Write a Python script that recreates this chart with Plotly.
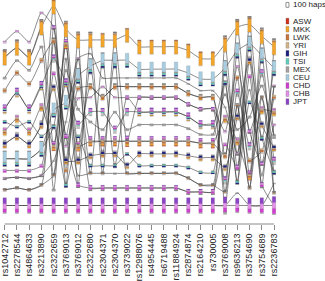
import plotly.graph_objects as go

SNPS = ["rs1042712", "rs2278544", "rs4864633", "rs3213890", "rs2322659", "rs3769013",
        "rs3769012", "rs2322680", "rs2304371", "rs2304370", "rs3739022", "rs12988076",
        "rs4954445", "rs6719488", "rs11884924", "rs2874874", "rs2164210", "rs730005",
        "rs3769008", "rs9636213", "rs3754690", "rs3754689", "rs2236783"]

POPS = ["ASW", "MKK", "LWK", "YRI", "GIH", "TSI", "MEX", "CEU", "CHD", "CHB", "JPT"]
POP_COLORS = ["#d0301c", "#f2a52a", "#c8743a", "#d4b487", "#1c2080", "#5fcfbb",
              "#a9a0a0", "#a8cde0", "#cf3fcf", "#e290e8", "#8c44c6"]

# haplotype rank position (vertical slot) at each SNP, one row per haplotype
HAP_Y = [
    [59, 49, 59, 28, 6, 30, 41, 41, 41, 41, 36, 48, 48, 48, 48, 52, 60, 60, 45, 28, 25, 37, 48],
    [163, 163, 163, 153, 113, 105, 78, 68, 62, 62, 62, 71, 71, 71, 71, 75, 81, 81, 70, 52, 45, 57, 70],
    [211, 211, 211, 211, 211, 211, 211, 211, 211, 211, 211, 211, 211, 211, 211, 211, 211, 211, 211, 211, 211, 211, 211],
    [43, 32, 43, 13, 28, 150, 101, 100, 89, 100, 100, 100, 100, 100, 100, 107, 112, 112, 135, 68, 135, 168, 128],
    [93, 75, 86, 62, 42, 175, 91, 89, 100, 89, 89, 89, 89, 89, 89, 96, 100, 100, 160, 80, 165, 155, 100],
    [80, 62, 72, 48, 195, 72, 112, 125, 133, 115, 133, 128, 128, 128, 128, 132, 138, 138, 97, 133, 120, 88, 140],
    [112, 95, 112, 88, 60, 85, 128, 115, 115, 133, 115, 115, 115, 115, 115, 120, 128, 128, 185, 95, 150, 75, 165],
    [135, 122, 135, 110, 150, 45, 150, 145, 145, 145, 145, 145, 145, 145, 145, 145, 147, 147, 122, 145, 180, 113, 115],
    [148, 140, 148, 128, 90, 165, 165, 160, 158, 158, 170, 158, 158, 158, 158, 160, 162, 162, 172, 120, 62, 128, 152],
    [183, 182, 183, 180, 165, 125, 60, 55, 80, 80, 80, 80, 80, 80, 80, 86, 93, 93, 110, 158, 92, 180, 88],
    [195, 193, 195, 190, 180, 60, 180, 178, 178, 178, 178, 178, 178, 178, 178, 183, 190, 190, 197, 108, 193, 100, 198],
    [125, 130, 125, 140, 130, 190, 140, 170, 170, 170, 158, 170, 170, 170, 170, 172, 177, 177, 85, 187, 105, 142, 177],
    [175, 175, 175, 170, 75, 140, 190, 193, 193, 193, 193, 193, 193, 193, 193, 197, 197, 197, 148, 172, 78, 190, 211],
    [211, 211, 211, 211, 211, 211, 211, 211, 211, 211, 211, 211, 211, 211, 211, 211, 211, 211, 211, 198, 211, 211, 188],
    [112, 95, 112, 88, 180, 30, 150, 89, 100, 89, 89, 89, 89, 89, 89, 96, 100, 100, 211, 108, 193, 37, 140],
    [148, 140, 148, 128, 6, 190, 41, 193, 193, 193, 193, 193, 193, 193, 193, 197, 197, 197, 45, 172, 62, 190, 48],
    [183, 182, 183, 180, 42, 165, 60, 145, 145, 145, 145, 145, 145, 145, 145, 145, 147, 147, 160, 28, 135, 100, 177],
    [195, 193, 195, 190, 28, 140, 78, 178, 62, 170, 100, 115, 115, 115, 115, 120, 128, 128, 85, 187, 25, 142, 70],
    [163, 163, 163, 153, 130, 45, 190, 41, 178, 41, 145, 100, 100, 100, 100, 107, 112, 112, 197, 52, 180, 57, 198],
    [59, 49, 59, 28, 150, 85, 165, 68, 158, 62, 178, 178, 178, 178, 178, 183, 190, 190, 70, 158, 45, 168, 88],
]

# haplotype counts per population (order of POPS)
HAP_COUNTS = [
    [5, 260, 25, 15, 0, 0, 0, 0, 0, 0, 0],
    [3, 0, 0, 0, 30, 35, 20, 210, 0, 0, 0],
    [0, 6, 6, 6, 0, 0, 0, 0, 75, 90, 110],
    [0, 0, 0, 0, 0, 0, 0, 0, 15, 30, 15],
    [10, 15, 45, 30, 0, 0, 0, 0, 0, 0, 0],
    [0, 0, 0, 0, 5, 5, 30, 10, 0, 0, 0],
    [8, 15, 12, 10, 15, 25, 0, 0, 25, 25, 25],
    [15, 35, 35, 30, 10, 0, 0, 0, 20, 20, 15],
    [10, 20, 20, 20, 45, 10, 0, 0, 10, 5, 0],
    [0, 0, 0, 0, 0, 0, 0, 0, 10, 15, 10],
    [5, 10, 15, 10, 0, 0, 0, 0, 0, 0, 0],
    [0, 0, 0, 0, 30, 30, 5, 5, 0, 0, 0],
    [0, 0, 0, 0, 0, 0, 0, 0, 35, 30, 15],
    [0, 0, 0, 0, 0, 0, 0, 0, 5, 10, 15],
    [3, 3, 3, 3, 5, 5, 3, 3, 3, 2, 0],
    [0, 3, 3, 3, 5, 5, 2, 3, 5, 4, 2],
    [2, 2, 2, 2, 3, 3, 2, 2, 2, 2, 2],
    [1, 2, 2, 1, 2, 2, 1, 2, 2, 2, 1],
    [1, 1, 2, 2, 3, 2, 1, 3, 2, 2, 2],
    [2, 2, 2, 2, 2, 2, 2, 2, 2, 2, 2],
]
SCALE_HAPS = 100

PX_PER_HAP = 0.05        # 100 haps -> 5 px
PLOT_W, PLOT_H = 280, 230
XR = (-0.219, 22.49)
HALF_W = 1.8 * (XR[1] - XR[0]) / PLOT_W
FONT = "Liberation Sans, Arial, sans-serif"

fig = go.Figure()
ncol = len(SNPS)
xs = list(range(ncol))

# connecting lines
for ys in HAP_Y:
    fig.add_trace(go.Scatter(x=xs, y=ys, mode="lines",
                             line=dict(color="rgba(45,45,45,0.85)", width=0.65,
                                       shape="spline", smoothing=0.55),
                             hoverinfo="skip", showlegend=False))

# nodes: stacked bars per column
poly_x = {p: [] for p in POPS}
poly_y = {p: [] for p in POPS}
for c in range(ncol):
    nodes = {}
    for ys, cnt in zip(HAP_Y, HAP_COUNTS):
        y = ys[c]
        acc = nodes.setdefault(y, [0] * len(POPS))
        for i, v in enumerate(cnt):
            acc[i] += v
    for y, acc in nodes.items():
        total = sum(acc)
        cur = y + total * PX_PER_HAP / 2
        for i, p in enumerate(POPS):
            h = acc[i] * PX_PER_HAP
            if h <= 0:
                continue
            top = cur - h
            poly_x[p] += [c - HALF_W, c + HALF_W, c + HALF_W, c - HALF_W, c - HALF_W, None]
            poly_y[p] += [cur, cur, top, top, cur, None]
            cur = top

for p, col in zip(POPS, POP_COLORS):
    fig.add_trace(go.Scatter(x=poly_x[p], y=poly_y[p], mode="lines", fill="toself",
                             fillcolor=col, line=dict(color="rgba(110,110,110,0.55)", width=0.3),
                             hoverinfo="skip", showlegend=False))

# axis baseline from first to last tick
fig.add_shape(type="line", xref="x", yref="paper", x0=0, x1=ncol - 1, y0=0, y1=0,
              line=dict(color="#8a8a8a", width=1))

# legend (custom)
def px_x(px):
    return px / PLOT_W

def px_y(py):
    return 1 - py / PLOT_H

fig.add_shape(type="rect", xref="paper", yref="paper",
              x0=px_x(286), x1=px_x(289), y0=px_y(2.5 + SCALE_HAPS * PX_PER_HAP), y1=px_y(2.5),
              line=dict(color="#777", width=0.8), fillcolor="white")
fig.add_annotation(xref="paper", yref="paper", x=px_x(292), y=px_y(5), text=f"{SCALE_HAPS} haps",
                   showarrow=False, xanchor="left", yanchor="middle", borderpad=0,
                   font=dict(family=FONT, size=8, color="#222"))
for i, (p, col) in enumerate(zip(POPS, POP_COLORS)):
    yc = 21.7 + i * 8.27
    fig.add_shape(type="rect", xref="paper", yref="paper",
                  x0=px_x(286), x1=px_x(289), y0=px_y(yc + 3), y1=px_y(yc - 3),
                  line=dict(color="rgba(90,90,90,0.6)", width=0.4), fillcolor=col)
    fig.add_annotation(xref="paper", yref="paper", x=px_x(292), y=px_y(yc), text=p,
                       showarrow=False, xanchor="left", yanchor="middle", borderpad=0,
                       font=dict(family=FONT, size=8, color="#222"))

fig.update_layout(
    width=325, height=281,
    margin=dict(l=0, r=45, t=0, b=51, pad=0),
    paper_bgcolor="white", plot_bgcolor="white",
    showlegend=False,
    xaxis=dict(range=list(XR), tickvals=xs, ticktext=SNPS, tickangle=-90,
               tickfont=dict(family=FONT, size=9, color="#222"),
               ticks="outside", ticklen=5, tickcolor="#8a8a8a", tickwidth=1,
               ticklabeloverflow="allow",
               showgrid=False, zeroline=False, showline=False, fixedrange=True),
    yaxis=dict(range=[PLOT_H, 0], visible=False, showgrid=False, zeroline=False, fixedrange=True),
)

fig.write_html("out.html")
